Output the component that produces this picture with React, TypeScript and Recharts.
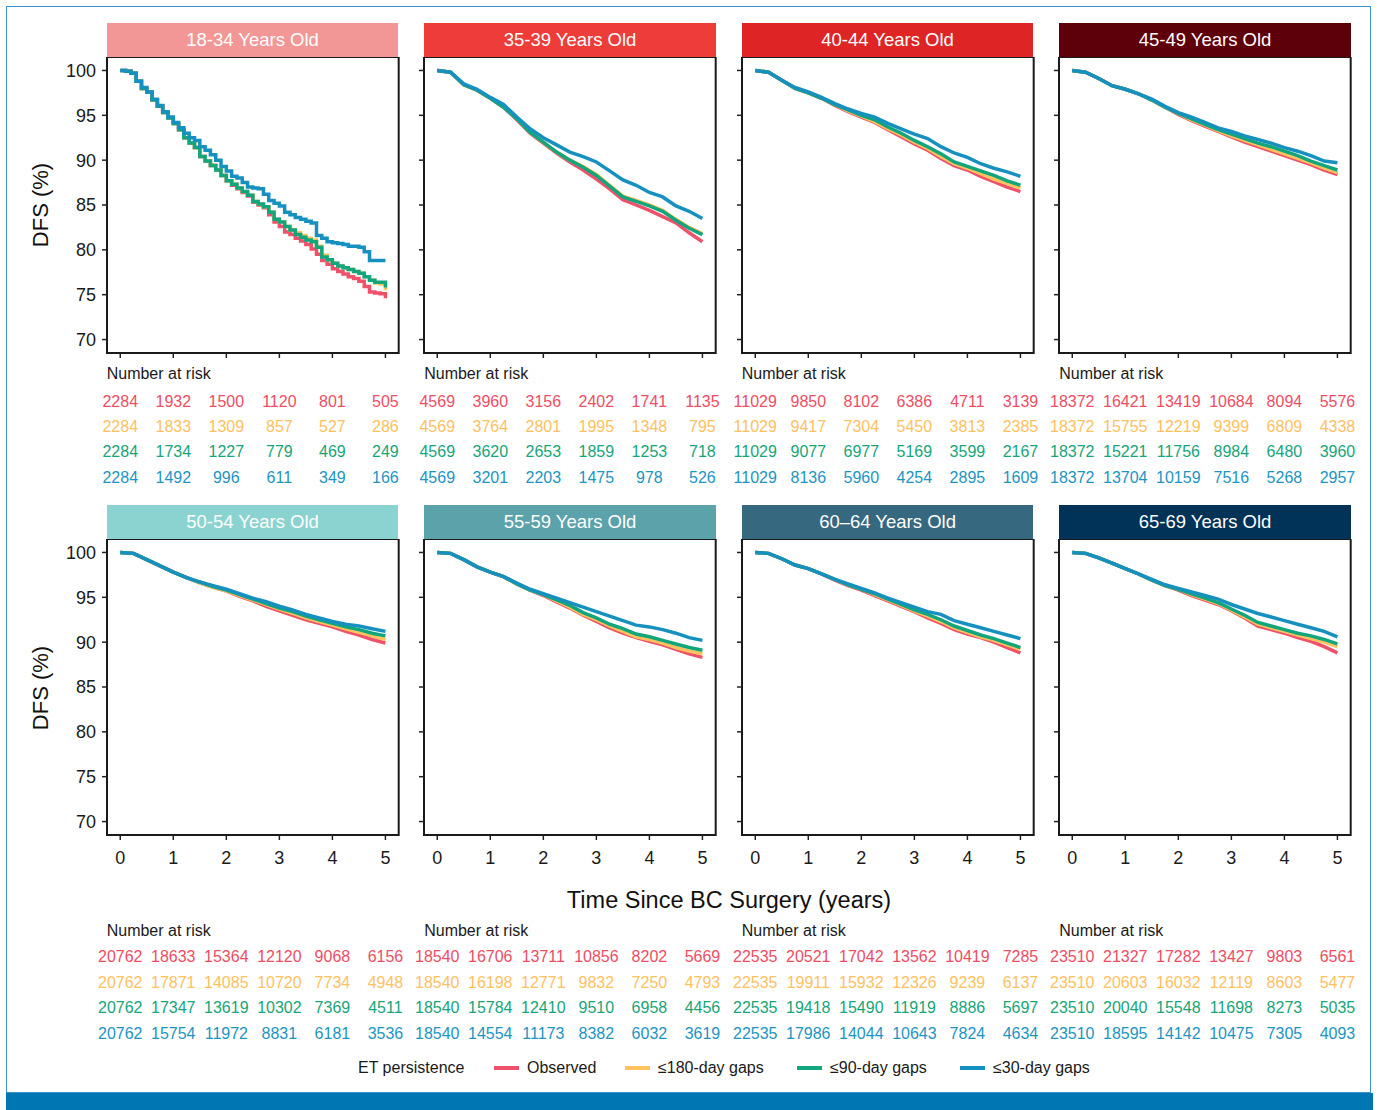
import React from 'react';
import { LineChart, Line, XAxis, YAxis, ReferenceArea } from 'recharts';

// ---------- data ----------
const TIMES_FINE = [0, 0.1, 0.2, 0.3, 0.4, 0.5, 0.6, 0.7, 0.8, 0.9, 1, 1.1, 1.2, 1.3, 1.4, 1.5, 1.6, 1.7, 1.8, 1.9, 2, 2.1, 2.2, 2.3, 2.4, 2.5, 2.6, 2.7, 2.8, 2.9, 3, 3.1, 3.2, 3.3, 3.4, 3.5, 3.6, 3.7, 3.8, 3.9, 4, 4.1, 4.2, 4.3, 4.4, 4.5, 4.6, 4.7, 4.8, 4.9, 5];
const TIMES = [0, 0.25, 0.5, 0.75, 1, 1.25, 1.5, 1.75, 2, 2.25, 2.5, 2.75, 3, 3.25, 3.5, 3.75, 4, 4.25, 4.5, 4.75, 5];
const X_TICKS = [0, 1, 2, 3, 4, 5];
const Y_TICKS = [70, 75, 80, 85, 90, 95, 100];

const SERIES_NAMES = ['Observed', '≤180-day gaps', '≤90-day gaps', '≤30-day gaps'];
const LINE_COLORS = ['#EE5169', '#FFC35E', '#12A67D', '#1691BF'];
const RISK_COLORS = ['#EF4D64', '#FFC160', '#17A57A', '#1C95C3'];
const TITLES = ['18-34 Years Old', '35-39 Years Old', '40-44 Years Old', '45-49 Years Old', '50-54 Years Old', '55-59 Years Old', '60–64 Years Old', '65-69 Years Old'];
const HEADER_COLORS = ['#F39696', '#EE3C39', '#DE2424', '#5E000A', '#8AD3D0', '#5CA2AB', '#36687F', '#003357'];

// 18-34
const P1_OBS = [100, 99.9, 99.7, 98.8, 98.0, 97.6, 96.7, 96.0, 95.3, 94.7, 94.1, 93.4, 92.5, 91.9, 91.4, 90.4, 89.9, 89.4, 88.9, 88.3, 87.7, 87.2, 86.8, 86.4, 86.0, 85.3, 85.0, 84.7, 83.9, 83.1, 82.6, 82.0, 81.7, 81.3, 81.0, 80.6, 80.1, 79.5, 78.8, 78.4, 77.9, 77.6, 77.3, 77.0, 76.8, 76.5, 75.9, 75.3, 75.2, 75.1, 74.6];
const P1_D180 = [100, 99.9, 99.7, 98.8, 98.0, 97.6, 96.7, 96.0, 95.3, 94.7, 94.1, 93.4, 92.5, 91.9, 91.4, 90.4, 89.9, 89.4, 88.9, 88.3, 87.7, 87.3, 86.9, 86.5, 86.1, 85.4, 85.1, 84.8, 84.2, 83.4, 83.1, 82.6, 82.2, 81.9, 81.6, 81.3, 81.1, 80.4, 79.4, 78.9, 78.5, 78.2, 78.0, 77.8, 77.6, 77.4, 77.0, 76.6, 76.3, 76.2, 75.5];
const P1_D90 = [100, 99.9, 99.7, 98.8, 98.0, 97.6, 96.7, 96.0, 95.3, 94.7, 94.1, 93.4, 92.5, 91.9, 91.4, 90.4, 89.9, 89.4, 88.9, 88.3, 87.7, 87.3, 86.9, 86.5, 86.1, 85.4, 85.1, 84.8, 84.2, 83.4, 83.1, 82.6, 82.2, 81.7, 81.4, 81.1, 80.9, 80.3, 79.2, 78.9, 78.5, 78.2, 78.0, 77.8, 77.6, 77.4, 77.0, 76.6, 76.4, 76.4, 75.8];
const P1_D30 = [100, 99.9, 99.7, 98.8, 98.1, 97.6, 96.8, 96.1, 95.4, 94.8, 94.2, 93.6, 93.0, 92.5, 92.2, 91.5, 91.1, 90.6, 90.0, 89.3, 88.8, 88.2, 88.0, 87.5, 87.0, 86.9, 86.8, 86.2, 85.5, 85.2, 84.9, 84.2, 83.9, 83.6, 83.4, 83.2, 83.0, 81.6, 81.3, 80.9, 80.8, 80.7, 80.6, 80.4, 80.4, 80.3, 79.8, 78.8, 78.8, 78.8, 78.8];
// 35-39
const P2_OBS = [100, 99.8, 98.4, 97.8, 96.9, 95.9, 94.5, 93.0, 91.9, 90.8, 89.8, 88.9, 87.9, 86.8, 85.6, 85.0, 84.4, 83.7, 83.0, 81.9, 80.9];
const P2_D180 = [100, 99.8, 98.4, 97.8, 96.9, 95.9, 94.6, 93.1, 92.0, 90.9, 90.0, 89.3, 88.4, 87.2, 86.0, 85.5, 85.0, 84.4, 83.4, 82.5, 81.8];
const P2_D90 = [100, 99.8, 98.4, 97.8, 96.9, 95.9, 94.6, 93.1, 92.0, 90.9, 90.0, 89.2, 88.3, 87.1, 85.9, 85.4, 84.9, 84.3, 83.3, 82.4, 81.7];
const P2_D30 = [100, 99.8, 98.5, 97.9, 97.0, 96.2, 94.8, 93.5, 92.5, 91.7, 90.9, 90.4, 89.8, 88.8, 87.8, 87.2, 86.4, 85.9, 84.9, 84.3, 83.5];
// 40-44
const P3_OBS = [100, 99.8, 98.9, 98.0, 97.5, 96.9, 96.1, 95.4, 94.8, 94.2, 93.4, 92.6, 91.8, 91.1, 90.2, 89.4, 88.9, 88.2, 87.6, 87.0, 86.5];
const P3_D180 = [100, 99.8, 98.9, 98.0, 97.5, 96.9, 96.2, 95.5, 94.9, 94.3, 93.5, 92.8, 92.0, 91.3, 90.4, 89.6, 89.1, 88.5, 87.9, 87.4, 86.9];
const P3_D90 = [100, 99.8, 98.9, 98.0, 97.5, 96.9, 96.2, 95.6, 95.0, 94.5, 93.7, 93.0, 92.2, 91.5, 90.7, 89.8, 89.3, 88.8, 88.3, 87.7, 87.2];
const P3_D30 = [100, 99.8, 98.9, 98.1, 97.6, 97.0, 96.3, 95.7, 95.2, 94.8, 94.1, 93.5, 92.9, 92.4, 91.5, 90.8, 90.3, 89.6, 89.1, 88.7, 88.2];
// 45-49
const P4_OBS = [100, 99.8, 99.1, 98.3, 97.9, 97.4, 96.7, 95.9, 95.1, 94.4, 93.8, 93.2, 92.6, 92.0, 91.5, 91.0, 90.5, 90.0, 89.5, 88.9, 88.4];
const P4_D180 = [100, 99.8, 99.1, 98.3, 97.9, 97.4, 96.7, 95.9, 95.2, 94.5, 93.9, 93.3, 92.7, 92.2, 91.7, 91.2, 90.7, 90.2, 89.7, 89.1, 88.6];
const P4_D90 = [100, 99.8, 99.1, 98.3, 97.9, 97.4, 96.7, 95.9, 95.2, 94.6, 94.0, 93.4, 92.9, 92.4, 91.9, 91.5, 91.0, 90.5, 89.9, 89.4, 88.9];
const P4_D30 = [100, 99.8, 99.1, 98.3, 97.9, 97.4, 96.8, 96.0, 95.3, 94.8, 94.2, 93.6, 93.2, 92.7, 92.3, 91.9, 91.4, 91.0, 90.5, 89.9, 89.7];
// 50-54
const P5_OBS = [100, 99.9, 99.2, 98.5, 97.8, 97.2, 96.6, 96.1, 95.7, 95.1, 94.6, 94.0, 93.5, 93.0, 92.5, 92.1, 91.7, 91.2, 90.8, 90.3, 89.9];
const P5_D180 = [100, 99.9, 99.2, 98.5, 97.8, 97.2, 96.6, 96.1, 95.7, 95.2, 94.7, 94.2, 93.7, 93.2, 92.7, 92.3, 91.9, 91.5, 91.1, 90.7, 90.3];
const P5_D90 = [100, 99.9, 99.2, 98.5, 97.8, 97.2, 96.7, 96.2, 95.8, 95.3, 94.8, 94.3, 93.8, 93.4, 92.9, 92.5, 92.1, 91.7, 91.4, 91.0, 90.7];
const P5_D30 = [100, 99.9, 99.2, 98.5, 97.8, 97.2, 96.7, 96.3, 95.9, 95.4, 94.9, 94.5, 94.0, 93.6, 93.1, 92.7, 92.3, 92.0, 91.8, 91.5, 91.2];
// 55-59
const P6_OBS = [100, 99.9, 99.2, 98.4, 97.8, 97.3, 96.5, 95.8, 95.2, 94.5, 93.8, 93.0, 92.3, 91.6, 91.0, 90.5, 90.1, 89.7, 89.2, 88.7, 88.3];
const P6_D180 = [100, 99.9, 99.2, 98.4, 97.8, 97.3, 96.5, 95.8, 95.3, 94.6, 93.9, 93.1, 92.5, 91.8, 91.2, 90.6, 90.3, 89.9, 89.4, 89.0, 88.7];
const P6_D90 = [100, 99.9, 99.2, 98.4, 97.8, 97.3, 96.5, 95.8, 95.3, 94.7, 94.1, 93.3, 92.7, 92.0, 91.5, 90.9, 90.6, 90.2, 89.8, 89.4, 89.1];
const P6_D30 = [100, 99.9, 99.2, 98.4, 97.8, 97.3, 96.6, 95.9, 95.4, 94.9, 94.4, 93.9, 93.4, 92.9, 92.4, 91.9, 91.7, 91.4, 91.0, 90.5, 90.2];
// 60-64
const P7_OBS = [100, 99.9, 99.3, 98.6, 98.2, 97.6, 96.9, 96.3, 95.8, 95.2, 94.6, 94.0, 93.4, 92.7, 92.1, 91.4, 90.9, 90.5, 90.0, 89.4, 88.8];
const P7_D180 = [100, 99.9, 99.3, 98.6, 98.2, 97.6, 97.0, 96.4, 95.9, 95.3, 94.7, 94.1, 93.5, 92.9, 92.3, 91.6, 91.1, 90.6, 90.2, 89.7, 89.2];
const P7_D90 = [100, 99.9, 99.3, 98.6, 98.2, 97.6, 97.0, 96.4, 95.9, 95.4, 94.8, 94.2, 93.6, 93.1, 92.5, 91.8, 91.3, 90.8, 90.4, 89.9, 89.4];
const P7_D30 = [100, 99.9, 99.3, 98.6, 98.2, 97.6, 97.0, 96.5, 96.0, 95.5, 94.9, 94.4, 93.9, 93.4, 93.1, 92.4, 92.0, 91.6, 91.2, 90.8, 90.4];
// 65-69
const P8_OBS = [100, 99.9, 99.4, 98.8, 98.2, 97.6, 96.9, 96.3, 95.8, 95.2, 94.7, 94.2, 93.5, 92.7, 91.8, 91.4, 91.0, 90.5, 90.1, 89.5, 88.8];
const P8_D180 = [100, 99.9, 99.4, 98.8, 98.2, 97.6, 96.9, 96.3, 95.9, 95.3, 94.8, 94.3, 93.6, 92.8, 92.0, 91.6, 91.2, 90.8, 90.4, 90.0, 89.5];
const P8_D90 = [100, 99.9, 99.4, 98.8, 98.2, 97.6, 96.9, 96.3, 95.9, 95.4, 94.9, 94.4, 93.7, 93.0, 92.2, 91.8, 91.4, 91.0, 90.7, 90.3, 89.8];
const P8_D30 = [100, 99.9, 99.4, 98.8, 98.2, 97.6, 97.0, 96.4, 96.0, 95.6, 95.2, 94.8, 94.2, 93.7, 93.2, 92.8, 92.4, 92.0, 91.6, 91.2, 90.6];

// Number at risk (rows: Observed, ≤180, ≤90, ≤30)
const R1 = [[2284, 1932, 1500, 1120, 801, 505], [2284, 1833, 1309, 857, 527, 286], [2284, 1734, 1227, 779, 469, 249], [2284, 1492, 996, 611, 349, 166]];
const R2 = [[4569, 3960, 3156, 2402, 1741, 1135], [4569, 3764, 2801, 1995, 1348, 795], [4569, 3620, 2653, 1859, 1253, 718], [4569, 3201, 2203, 1475, 978, 526]];
const R3 = [[11029, 9850, 8102, 6386, 4711, 3139], [11029, 9417, 7304, 5450, 3813, 2385], [11029, 9077, 6977, 5169, 3599, 2167], [11029, 8136, 5960, 4254, 2895, 1609]];
const R4 = [[18372, 16421, 13419, 10684, 8094, 5576], [18372, 15755, 12219, 9399, 6809, 4338], [18372, 15221, 11756, 8984, 6480, 3960], [18372, 13704, 10159, 7516, 5268, 2957]];
const R5 = [[20762, 18633, 15364, 12120, 9068, 6156], [20762, 17871, 14085, 10720, 7734, 4948], [20762, 17347, 13619, 10302, 7369, 4511], [20762, 15754, 11972, 8831, 6181, 3536]];
const R6 = [[18540, 16706, 13711, 10856, 8202, 5669], [18540, 16198, 12771, 9832, 7250, 4793], [18540, 15784, 12410, 9510, 6958, 4456], [18540, 14554, 11173, 8382, 6032, 3619]];
const R7 = [[22535, 20521, 17042, 13562, 10419, 7285], [22535, 19911, 15932, 12326, 9239, 6137], [22535, 19418, 15490, 11919, 8886, 5697], [22535, 17986, 14044, 10643, 7824, 4634]];
const R8 = [[23510, 21327, 17282, 13427, 9803, 6561], [23510, 20603, 16032, 12119, 8603, 5477], [23510, 20040, 15548, 11698, 8273, 5035], [23510, 18595, 14142, 10475, 7305, 4093]];

const PANELS = [
  { times: TIMES_FINE, curve: 'stepAfter', series: [P1_OBS, P1_D180, P1_D90, P1_D30], risk: R1 },
  { times: TIMES, curve: 'linear', series: [P2_OBS, P2_D180, P2_D90, P2_D30], risk: R2 },
  { times: TIMES, curve: 'linear', series: [P3_OBS, P3_D180, P3_D90, P3_D30], risk: R3 },
  { times: TIMES, curve: 'linear', series: [P4_OBS, P4_D180, P4_D90, P4_D30], risk: R4 },
  { times: TIMES, curve: 'linear', series: [P5_OBS, P5_D180, P5_D90, P5_D30], risk: R5 },
  { times: TIMES, curve: 'linear', series: [P6_OBS, P6_D180, P6_D90, P6_D30], risk: R6 },
  { times: TIMES, curve: 'linear', series: [P7_OBS, P7_D180, P7_D90, P7_D30], risk: R7 },
  { times: TIMES, curve: 'linear', series: [P8_OBS, P8_D180, P8_D90, P8_D30], risk: R8 },
];
const KEYS = ['obs', 'd180', 'd90', 'd30'];

// ---------- layout ----------
const FONT = '"Liberation Sans", Arial, Helvetica, sans-serif';
const FRAME_LEFTS = [106.7, 424.2, 741.7, 1059.2];
const FRAME_W = 291.7;
const PLOT_H = 296;
const ROW_TOPS = [56.7, 539.3];
const AXIS_W = 60;
const HEADER_H = 34;

function RiskTick(props: any) {
  const { x, y, payload, risk, showLabel } = props;
  const idx = X_TICKS.indexOf(payload.value);
  const offs = showLabel ? [116.3, 142.3, 168, 193.3] : [43.2, 68.2, 93.2, 119.2];
  return (
    <g>
      {showLabel && (
        <text x={x} y={y + 18} textAnchor="middle" dominantBaseline="central" fontSize={18} fontFamily={FONT} fill="#1a1a1a">
          {payload.value}
        </text>
      )}
      {risk.map((r: number[], i: number) => (
        <text key={i} x={x} y={y + offs[i]} textAnchor="middle" dominantBaseline="central" fontSize={16} fontFamily={FONT} fill={RISK_COLORS[i]}>
          {r[idx]}
        </text>
      ))}
    </g>
  );
}

function Panel({ index }: { index: number }) {
  const p = PANELS[index];
  const row = index < 4 ? 0 : 1;
  const col = index % 4;
  const left = FRAME_LEFTS[col];
  const top = ROW_TOPS[row];
  const axisH = row === 0 ? 150 : 225;
  const data = p.times.map((t, i) => ({
    t,
    obs: p.series[0][i],
    d180: p.series[1][i],
    d90: p.series[2][i],
    d30: p.series[3][i],
  }));
  return (
    <>
      <div
        style={{
          position: 'absolute',
          left,
          top: top - HEADER_H,
          width: FRAME_W,
          height: HEADER_H,
          background: HEADER_COLORS[index],
          color: '#fff',
          fontFamily: FONT,
          fontSize: 18.5,
          lineHeight: HEADER_H + 'px',
          textAlign: 'center',
        }}
      >
        {TITLES[index]}
      </div>
      <div style={{ position: 'absolute', left: left - AXIS_W, top }}>
        <LineChart width={AXIS_W + FRAME_W + 20} height={PLOT_H + axisH} data={data} margin={{ top: 0, right: 20, bottom: 0, left: 0 }}>
          <XAxis
            dataKey="t"
            type="number"
            domain={[-0.25, 5.25]}
            ticks={X_TICKS}
            allowDataOverflow
            interval={0}
            axisLine={false}
            tickLine={{ stroke: '#222', strokeWidth: 1.5 }}
            tickSize={5}
            tickMargin={0}
            height={axisH}
            tick={(tp: any) => <RiskTick {...tp} risk={p.risk} showLabel={row === 1} />}
          />
          <YAxis
            type="number"
            domain={[68.5, 101.5]}
            ticks={Y_TICKS}
            allowDataOverflow
            interval={0}
            width={AXIS_W}
            axisLine={false}
            tickLine={{ stroke: '#222', strokeWidth: 1.5 }}
            tickSize={5}
            tickMargin={6}
            tick={col === 0 ? { fill: '#1a1a1a', fontSize: 18, fontFamily: FONT } : () => <g />}
          />
          <ReferenceArea x1={-0.25} x2={5.25} y1={68.5} y2={101.5} fill="none" stroke="#1a1a1a" strokeWidth={2} ifOverflow="visible" />
          {KEYS.map((k, i) => (
            <Line
              key={k}
              dataKey={k}
              name={SERIES_NAMES[i]}
              type={p.curve as any}
              stroke={LINE_COLORS[i]}
              strokeWidth={3.5}
              dot={false}
              activeDot={false}
              isAnimationActive={false}
            />
          ))}
        </LineChart>
      </div>
      <div
        style={{
          position: 'absolute',
          left,
          top: row === 0 ? 364 : 921,
          fontFamily: FONT,
          fontSize: 16,
          color: '#1a1a1a',
          lineHeight: '20px',
          whiteSpace: 'nowrap',
        }}
      >
        Number at risk
      </div>
    </>
  );
}

const LEGEND_X = [494, 625, 797, 960];

export default function App() {
  return (
    <div style={{ position: 'absolute', left: 0, top: 0, width: 1377, height: 1110, background: '#fff', fontFamily: FONT, overflow: 'hidden' }}>
      <div style={{ position: 'absolute', left: 6, top: 6, width: 1365, height: 1087, border: '1.5px solid #3A93CC', boxSizing: 'border-box' }} />
      <div style={{ position: 'absolute', left: 6, top: 1093, width: 1367, height: 17, background: '#0076B2' }} />
      {PANELS.map((_, i) => (
        <Panel key={i} index={i} />
      ))}
      {[204.6, 687.6].map((cy, i) => (
        <div
          key={i}
          style={{
            position: 'absolute',
            left: 41,
            top: cy,
            transform: 'translate(-50%, -50%) rotate(-90deg)',
            fontSize: 22,
            color: '#111',
            whiteSpace: 'nowrap',
            lineHeight: '26px',
          }}
        >
          DFS (%)
        </div>
      ))}
      <div
        style={{
          position: 'absolute',
          left: 729,
          top: 900,
          transform: 'translate(-50%, -50%)',
          fontSize: 23.5,
          color: '#111',
          whiteSpace: 'nowrap',
        }}
      >
        Time Since BC Surgery (years)
      </div>
      <div style={{ position: 'absolute', left: 358, top: 1058, fontSize: 16, lineHeight: '20px', color: '#1a1a1a', whiteSpace: 'nowrap' }}>ET persistence</div>
      {SERIES_NAMES.map((n, i) => (
        <React.Fragment key={n}>
          <div style={{ position: 'absolute', left: LEGEND_X[i], top: 1066, width: 25, height: 4, background: LINE_COLORS[i] }} />
          <div style={{ position: 'absolute', left: LEGEND_X[i] + 33, top: 1058, fontSize: 16, lineHeight: '20px', color: '#1a1a1a', whiteSpace: 'nowrap' }}>{n}</div>
        </React.Fragment>
      ))}
    </div>
  );
}
